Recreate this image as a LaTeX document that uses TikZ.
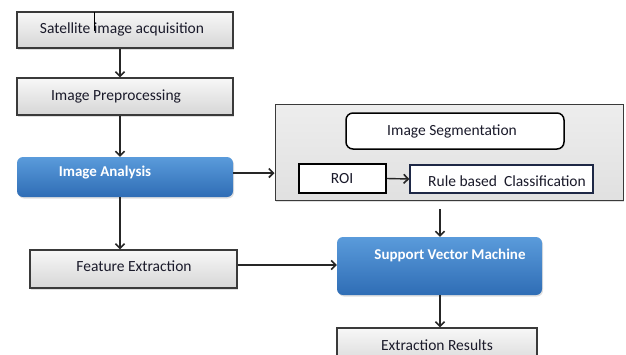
\documentclass[tikz,border=0pt]{standalone}
\usepackage{fontspec}
\setmainfont{Carlito}
\usetikzlibrary{arrows.meta,shadows}
\definecolor{edge}{HTML}{3A3A3A}
\definecolor{bluetop}{HTML}{5A9BDB}
\definecolor{bluebot}{HTML}{2F6DB5}
\definecolor{txt}{HTML}{1A1A2A}
\tikzset{
  graybox/.style={draw=edge, line width=1.3pt, top color=gray!6, bottom color=gray!32,
    drop shadow={shadow xshift=1pt, shadow yshift=-1.5pt, opacity=0.25}, inner sep=0pt},
  bluebox/.style={draw=none, rounded corners=6pt, top color=bluetop, bottom color=bluebot,
    drop shadow={shadow xshift=1pt, shadow yshift=-1.5pt, opacity=0.25}, inner sep=0pt},
  whitebox/.style={draw=black, fill=white, line width=1.5pt, inner sep=0pt},
  lbl/.style={font=\fontsize{15.5}{18}\selectfont, text=txt, inner sep=0pt},
  wlbl/.style={font=\fontsize{15}{18}\selectfont\bfseries, text=white, inner sep=0pt},
  arr/.style={draw=black!85, line width=1.4pt, -{Straight Barb[length=4.5pt,width=9pt,line width=1.6pt]}},
}
\begin{document}
\begin{tikzpicture}[x=1pt,y=-1pt]
\useasboundingbox (0,0) rectangle (626,354);
% left column
\node[graybox, minimum width=216pt, minimum height=36pt] (sat) at (125,30) {};
\node[lbl] (satt) at (122,29) {Satellite image acquisition};
\draw[black, line width=0.8pt] (94,12) -- (94,31);
\node[graybox, minimum width=216pt, minimum height=37pt] (pre) at (125,96.5) {};
\node[lbl] (pret) at (116,96) {Image Preprocessing};
\node[bluebox, minimum width=216pt, minimum height=40pt] (ia) at (125,177) {};
\node[wlbl] (iat) at (105,173) {Image Analysis};
\node[graybox, minimum width=207pt, minimum height=38pt] (fe) at (133.5,269) {};
\node[lbl] (fet) at (134,266) {Feature Extraction};
% right group
\node[graybox, line width=1pt, top color=gray!14, bottom color=gray!24, minimum width=348pt, minimum height=96pt] (grp) at (449,152) {};
\node[whitebox, rounded corners=7pt, minimum width=218pt, minimum height=36pt] (seg) at (455,131) {};
\node[lbl] (segt) at (452,131) {Image Segmentation};
\node[whitebox, minimum width=87pt, minimum height=29pt] (roi) at (342.5,178.5) {};
\node[lbl] (roit) at (342,179) {ROI};
\node[whitebox, draw={rgb,255:red,30;green,40;blue,70}, line width=1.3pt, minimum width=183pt, minimum height=28pt] (rbc) at (501.5,179) {};
\node[lbl] (rbct) at (507,181) {Rule based\ \ Classification};
\node[bluebox, minimum width=205pt, minimum height=58pt] (svm) at (439.5,266) {};
\node[wlbl] (svmt) at (450,255) {Support Vector Machine};
\node[graybox, minimum width=200pt, minimum height=40pt] (res) at (437,348) {};
\node[lbl] (rest) at (437,345) {Extraction Results};
% arrows
\coordinate (c1) at (120,0);
\draw[arr] (sat.south -| c1) -- (pre.north -| c1);
\draw[arr] (pre.south -| c1) -- (ia.north -| c1);
\draw[arr] (ia.south -| c1) -- (fe.north -| c1);
\draw[arr] (ia.east |- 0,173) -- (grp.west |- 0,173);
\draw[arr] (roi.east) -- (rbc.west);
\coordinate (g1) at (440,209);
\draw[arr] (g1) -- (svm.north -| g1);
\draw[arr] (fe.east |- 0,265) -- (svm.west |- 0,265);
\draw[arr] (svm.south -| g1) -- (res.north -| g1);
\end{tikzpicture}
\end{document}
